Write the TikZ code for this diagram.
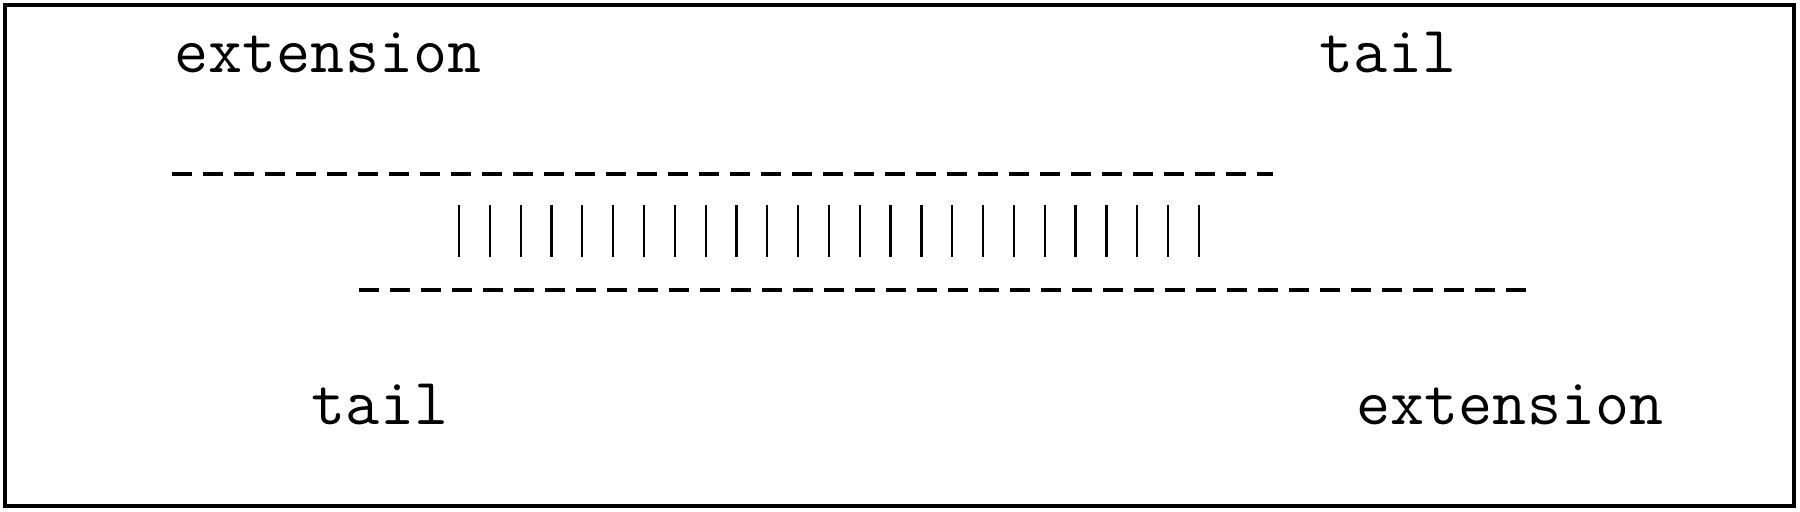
\documentclass[tikz,border=0pt]{standalone}
\usepackage{fontspec}
\begin{document}
\begin{tikzpicture}[
  tag/.style={font=\ttfamily\fontsize{18.8}{22}\selectfont, inner sep=0pt, anchor=base},
  strand/.style={line width=0.9pt, dash pattern=on 2mm off 1.1mm},
  pair/.style={line width=0.65pt}]
\useasboundingbox (0,0) rectangle (18,5.12);
\draw[line width=1pt] (0.05,0.06) rectangle (17.94,5.07);
% labels
\node[tag] (ext-top) at (3.28,4.39) {extension};
\node[tag] (tail-top) at (13.88,4.39) {tail};
\node[tag] (tail-bot) at (3.80,0.87) {tail};
\node[tag] (ext-bot) at (15.10,0.87) {extension};
% strands
\coordinate (top-l) at (1.72,3.38);
\coordinate (top-r) at (12.73,3.38);
\coordinate (bot-l) at (3.59,2.22);
\coordinate (bot-r) at (15.27,2.22);
\draw[strand] (top-l) -- (top-r);
\draw[strand] (bot-l) -- (bot-r);
% base pairs
\foreach \i in {0,...,24}
  \draw[pair] ({4.59+0.3083*\i},3.07) -- ++(0,-0.52);
\end{tikzpicture}
\end{document}
